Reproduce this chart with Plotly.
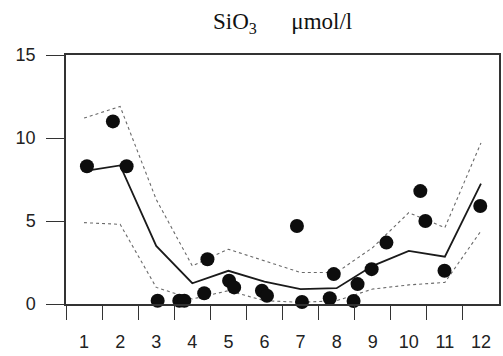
import plotly.graph_objects as go

# Monthly climatology of silicate (SiO3, umol/l)
months = list(range(1, 13))
month_labels = [str(m) for m in months]
mean_line = [8.0, 8.35, 3.5, 1.25, 2.0, 1.35, 0.9, 0.95, 2.3, 3.2, 2.85, 7.25]
upper_bound = [11.2, 11.9, 6.3, 2.3, 3.3, 2.6, 1.9, 1.9, 3.4, 5.5, 4.6, 9.7]
lower_bound = [4.9, 4.8, 1.0, 0.3, 0.8, 0.2, 0.1, 0.2, 0.9, 1.15, 1.3, 4.4]

# Individual observations (fractional month = day of year)
obs_month = [1.08, 1.80, 2.18, 3.04, 3.64, 3.78, 4.33, 4.42, 5.02, 5.16, 5.93, 6.07,
             6.90, 7.04, 7.81, 7.92, 8.47, 8.58, 8.97, 9.38, 10.32, 10.46, 10.99, 11.98]
obs_value = [8.3, 11.0, 8.3, 0.2, 0.2, 0.2, 0.65, 2.7, 1.4, 1.0, 0.8, 0.5,
             4.7, 0.12, 0.35, 1.8, 0.18, 1.2, 2.1, 3.7, 6.8, 5.0, 2.0, 5.9]

y_ticks = [0, 5, 10, 15]
month_bounds = [m - 0.5 for m in months]

fig = go.Figure()
for bound in (upper_bound, lower_bound):
    fig.add_trace(go.Scatter(x=months, y=bound, mode="lines",
                             line=dict(color="#6a6a6a", width=1.1, dash="dot"),
                             hoverinfo="skip", cliponaxis=False))
fig.add_trace(go.Scatter(x=months, y=mean_line, mode="lines",
                         line=dict(color="#1a1a1a", width=1.8), cliponaxis=False))
fig.add_trace(go.Scatter(x=obs_month, y=obs_value, mode="markers",
                         marker=dict(color="#0d0d0d", size=14, line=dict(width=0)),
                         cliponaxis=False))

axis_font = dict(family="Liberation Sans, Arial, sans-serif", size=18, color="#222222")

fig.update_layout(
    width=503, height=356,
    margin=dict(l=66, r=2, t=55, b=52),
    paper_bgcolor="white", plot_bgcolor="white",
    showlegend=False,
    font=axis_font,
    xaxis=dict(range=[0.5, 12.5], tickmode="array", tickvals=months, ticktext=month_labels,
               ticks="", showgrid=False, zeroline=False,
               showline=True, linecolor="#333333", linewidth=1.5, mirror=True,
               ticklabelstandoff=21, tickfont=axis_font,
               minor=dict(tickmode="array", tickvals=month_bounds, ticks="outside",
                          ticklen=14, tickwidth=1.3, tickcolor="#333333", showgrid=False)),
    yaxis=dict(range=[0, 15], tickmode="array", tickvals=y_ticks,
               ticks="outside", ticklen=18, tickwidth=1.3, tickcolor="#333333",
               showgrid=False, zeroline=False,
               showline=True, linecolor="#333333", linewidth=1.5, mirror=True,
               ticklabelstandoff=7, tickfont=axis_font),
    annotations=[dict(text="SiO<sub>3</sub>\u00a0\u00a0\u00a0\u00a0\u00a0\u00a0μmol/l",
                      xref="paper", yref="paper", x=0.5, y=1.0, yshift=16,
                      xanchor="center", yanchor="bottom", showarrow=False,
                      font=dict(family="Liberation Serif, Times New Roman, serif",
                                size=23, color="#111111"))],
)

fig.write_html("out.html")
